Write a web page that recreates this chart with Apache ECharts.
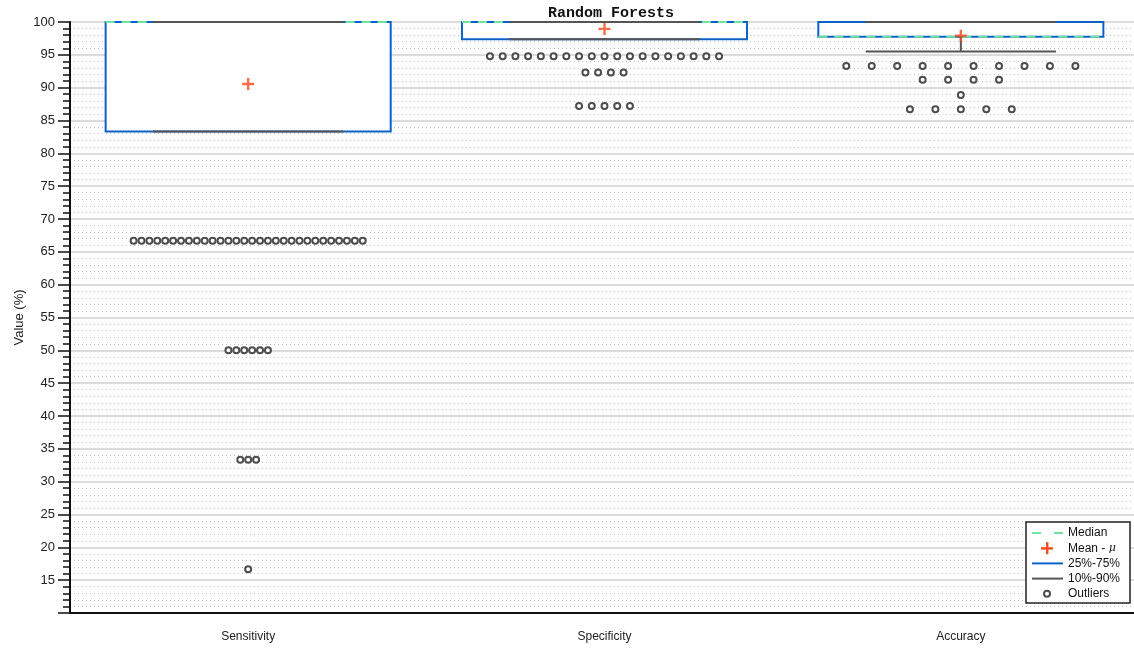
<!DOCTYPE html>
<html>
<head>
<meta charset="utf-8">
<script src="https://cdn.jsdelivr.net/npm/echarts@6/dist/echarts.min.js"></script>
<style>
  html, body { margin: 0; padding: 0; background: #fff; }
  #chart { width: 1134px; height: 651px; }
</style>
</head>
<body>
<div id="chart"></div>
<script>
// categories and box statistics
const categories = ['Sensitivity', 'Specificity', 'Accuracy']
const p10 = [83.33, 97.36, 95.5]
const p25 = [83.33, 97.36, 97.75]
const median = [100, 100, 97.75]
const p75 = [100, 100, 100]
const p90 = [100, 100, 100]
const mean = [90.55, 98.95, 97.9]

// outliers: [value, how many]
const sensOutliers = [[66.67, 30], [50, 6], [33.33, 3], [16.67, 1]]
const specOutliers = [[94.8, 19], [92.3, 4], [87.2, 5]]
const accOutliers = [[93.3, 10], [91.2, 4], [88.9, 1], [86.7, 5]]

const yTicks = [10, 100, 5] // min, max, step

const BLUE = '#0a62c9'
const GREEN = '#6fe3a0'
const GRAY = '#555555'
const RED = '#f84a1c'

const boxData = categories.map((c, i) => [i + 1, p10[i], p25[i], median[i], p75[i], p90[i]])
const meanData = categories.map((c, i) => [i + 1, mean[i]])

// spread equal outliers side by side, like the original plot does
const outlierData = []
;[sensOutliers, specOutliers, accOutliers].forEach((rows, ci) => {
  const maxN = Math.max.apply(null, rows.map(r => r[1]))
  const step = maxN > 1 ? 0.643 / (maxN - 1) : 0
  rows.forEach(([v, n]) => {
    for (let k = 0; k < n; k++) {
      outlierData.push([ci + 1 + (k - (n - 1) / 2) * step, v])
    }
  })
})

const chart = echarts.init(document.getElementById('chart'))

function renderBox (params, api) {
  const x = api.value(0)
  const pt = (dx, v) => api.coord([x + dx, v])
  const boxW = 0.4
  const whW = 0.267
  const lo = pt(-boxW, api.value(2))
  const hi = pt(boxW, api.value(4))
  const children = [{
    type: 'rect',
    shape: { x: lo[0], y: hi[1], width: hi[0] - lo[0], height: lo[1] - hi[1] },
    style: { fill: '#fff', stroke: BLUE, lineWidth: 2 }
  }]
  const med1 = pt(-boxW, api.value(3))
  const med2 = pt(boxW, api.value(3))
  children.push({
    type: 'line',
    shape: { x1: med1[0], y1: med1[1], x2: med2[0], y2: med2[1] },
    style: { stroke: GREEN, lineWidth: 2, lineDash: [9, 7] }
  })
  // 10% / 90% lines and stems
  ;[[1, 2], [5, 4]].forEach(([wi, bi]) => {
    const a = pt(-whW, api.value(wi))
    const b = pt(whW, api.value(wi))
    children.push({
      type: 'line',
      shape: { x1: a[0], y1: a[1], x2: b[0], y2: b[1] },
      style: { stroke: GRAY, lineWidth: 2 }
    })
    if (api.value(wi) !== api.value(bi)) {
      const s1 = pt(0, api.value(wi))
      const s2 = pt(0, api.value(bi))
      children.push({
        type: 'line',
        shape: { x1: s1[0], y1: s1[1], x2: s2[0], y2: s2[1] },
        style: { stroke: GRAY, lineWidth: 2 }
      })
    }
  })
  return { type: 'group', children: children }
}

const PLUS = 'path://M4,0 H6 V4 H10 V6 H6 V10 H4 V6 H0 V4 H4 Z'

// legend drawn by hand, the icons are not standard ones
const lx = 1026
const ly = 522
const legendRows = ['Median', 'Mean', '25%-75%', '10%-90%', 'Outliers']
const legendGraphics = [{
  type: 'rect',
  shape: { x: lx, y: ly, width: 104, height: 81 },
  style: { fill: '#fff', stroke: '#222', lineWidth: 1.5 },
  z: 100
}]
legendRows.forEach((name, i) => {
  const cy = ly + 11 + i * 15.2
  if (name === 'Median') {
    legendGraphics.push({ type: 'line', shape: { x1: 1032, y1: cy, x2: 1063, y2: cy }, style: { stroke: GREEN, lineWidth: 2, lineDash: [9, 13] }, z: 101 })
  } else if (name === 'Mean') {
    legendGraphics.push({ type: 'rect', shape: { x: 1041, y: cy - 1, width: 12, height: 2.4 }, style: { fill: RED }, z: 101 })
    legendGraphics.push({ type: 'rect', shape: { x: 1046, y: cy - 6, width: 2.4, height: 12 }, style: { fill: RED }, z: 101 })
  } else if (name === 'Outliers') {
    legendGraphics.push({ type: 'circle', shape: { cx: 1047, cy: cy, r: 3 }, style: { fill: '#fff', stroke: '#4d4d4d', lineWidth: 2 }, z: 101 })
  } else {
    legendGraphics.push({ type: 'line', shape: { x1: 1032, y1: cy, x2: 1063, y2: cy }, style: { stroke: name === '25%-75%' ? BLUE : GRAY, lineWidth: 2 }, z: 101 })
  }
  legendGraphics.push({
    type: 'text',
    x: 1068,
    y: cy,
    style: name === 'Mean'
      ? { text: 'Mean - {m|μ}', rich: { m: { fontStyle: 'italic', fontFamily: 'DejaVu Serif', fontSize: 11, fill: '#111' } }, fill: '#111', font: '12px "Liberation Sans", Arial, sans-serif', verticalAlign: 'middle' }
      : { text: name, fill: '#111', font: '12px "Liberation Sans", Arial, sans-serif', verticalAlign: 'middle' },
    z: 101
  })
})

chart.setOption({
  animation: false,
  title: {
    text: 'Random Forests',
    left: 606,
    top: 1,
    textAlign: 'center',
    textStyle: { fontFamily: 'Liberation Mono', fontWeight: 'bold', fontSize: 15, color: '#111' }
  },
  grid: { left: 70, top: 22, width: 1069, height: 591, outerBoundsMode: 'none' },
  xAxis: [{
    type: 'category',
    data: categories,
    boundaryGap: true,
    axisLine: { lineStyle: { color: '#111', width: 2 } },
    axisTick: { alignWithLabel: true, length: 9, lineStyle: { color: '#111', width: 1.5 } },
    axisLabel: { margin: 18, fontSize: 12, color: '#222', fontFamily: 'Liberation Sans' },
    splitLine: { show: false }
  }, {
    type: 'value',
    min: 0.5,
    max: 3.5,
    show: false
  }],
  yAxis: {
    type: 'value',
    min: yTicks[0],
    max: yTicks[1],
    interval: yTicks[2],
    name: 'Value (%)',
    nameLocation: 'middle',
    nameGap: 44,
    nameMoveOverlap: false,
    nameTextStyle: { fontSize: 13, color: '#222', fontFamily: 'Liberation Sans' },
    axisLine: { show: true, lineStyle: { color: '#111', width: 2 } },
    axisTick: { show: true, length: 12, lineStyle: { color: '#111', width: 1.5 } },
    minorTick: { show: true, splitNumber: 5, length: 7, lineStyle: { color: '#111', width: 1.5 } },
    axisLabel: {
      margin: 15,
      fontSize: 13,
      color: '#222',
      fontFamily: 'Liberation Sans',
      formatter: v => (v === yTicks[0] ? '' : v)
    },
    splitLine: { show: true, lineStyle: { color: '#dcdcdc', width: 2 } },
    minorSplitLine: { show: true, lineStyle: { color: '#bdbdbd', width: 1, type: [1, 3] } }
  },
  graphic: legendGraphics,
  series: [{
    type: 'custom',
    name: 'box',
    xAxisIndex: 1,
    renderItem: renderBox,
    data: boxData,
    z: 3
  }, {
    type: 'scatter',
    name: 'Outliers',
    xAxisIndex: 1,
    data: outlierData,
    symbol: 'circle',
    symbolSize: 6,
    itemStyle: { color: '#fff', borderColor: '#4d4d4d', borderWidth: 2, opacity: 1 },
    z: 4
  }, {
    type: 'scatter',
    name: 'Mean',
    xAxisIndex: 1,
    data: meanData,
    symbol: PLUS,
    symbolSize: 12,
    itemStyle: { color: RED },
    z: 5
  }]
})
</script>
</body>
</html>
